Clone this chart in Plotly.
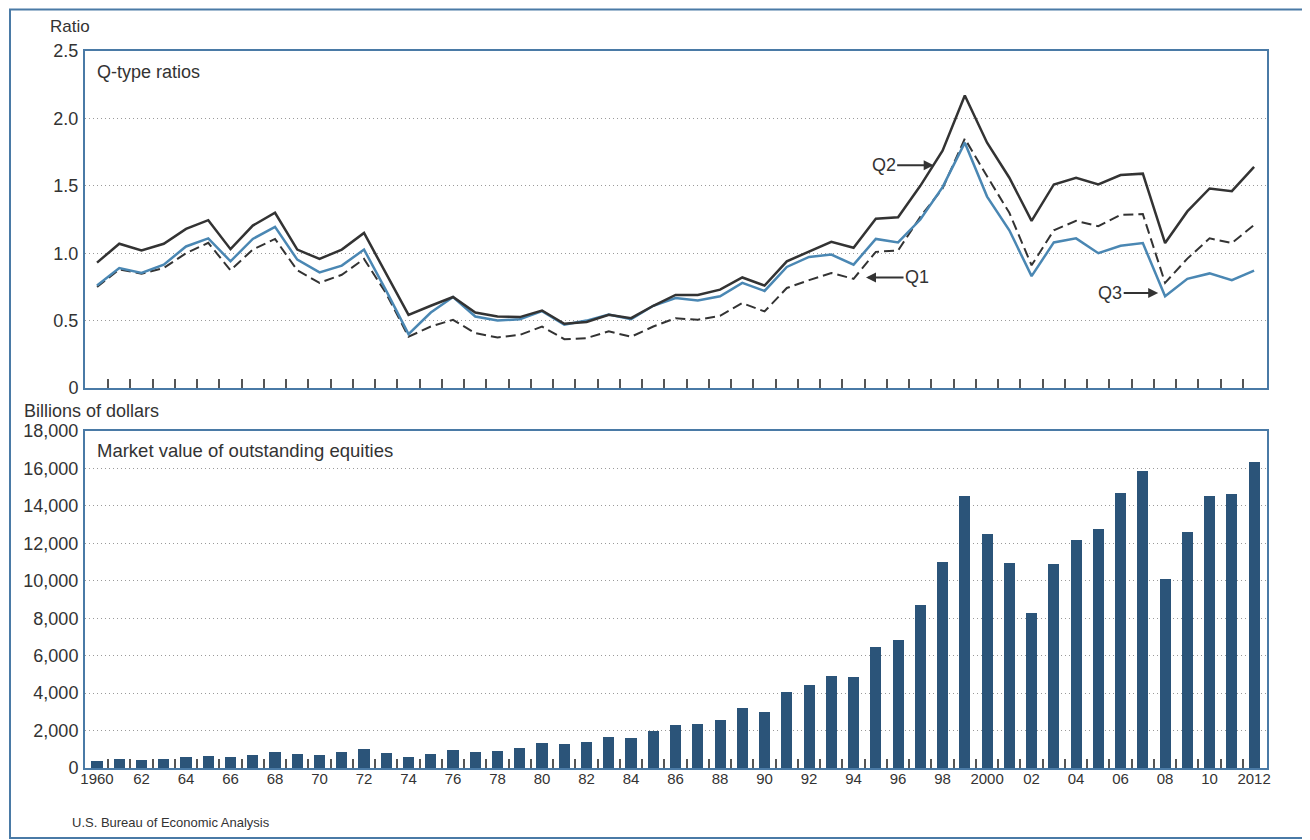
import plotly.graph_objects as go

years = list(range(1960, 2013))

q2_ratio = [0.93, 1.07, 1.02, 1.07, 1.18, 1.245, 1.03, 1.205, 1.30, 1.027, 0.957, 1.027, 1.15, 0.85, 0.543, 0.61, 0.675, 0.56, 0.53,
            0.526, 0.575, 0.476, 0.49, 0.543, 0.518, 0.61, 0.69, 0.69, 0.73, 0.82, 0.76, 0.94, 1.014, 1.084, 1.04,
            1.255, 1.266, 1.50, 1.76, 2.17, 1.82, 1.56, 1.24, 1.51, 1.56, 1.51, 1.58, 1.59, 1.075, 1.31, 1.48, 1.46, 1.64]
q3_ratio = [0.76, 0.89, 0.853, 0.915, 1.05, 1.11, 0.94, 1.106, 1.195, 0.952, 0.858, 0.908, 1.027, 0.72, 0.40, 0.56, 0.675, 0.53, 0.50,
            0.51, 0.57, 0.47, 0.50, 0.545, 0.51, 0.61, 0.667, 0.65, 0.68, 0.78, 0.72, 0.898, 0.972, 0.99, 0.915,
            1.106, 1.08, 1.25, 1.49, 1.82, 1.42, 1.17, 0.83, 1.08, 1.11, 1.00, 1.055, 1.075, 0.68, 0.81, 0.85, 0.80, 0.87]
q1_ratio = [0.75, 0.88, 0.848, 0.89, 1.00, 1.077, 0.873, 1.027, 1.106, 0.873, 0.78, 0.84, 0.957, 0.70, 0.38, 0.456, 0.506, 0.407, 0.375,
            0.394, 0.456, 0.362, 0.37, 0.42, 0.38, 0.456, 0.518, 0.506, 0.536, 0.63, 0.568, 0.742, 0.80, 0.853, 0.81,
            1.01, 1.02, 1.27, 1.48, 1.85, 1.57, 1.30, 0.91, 1.17, 1.24, 1.20, 1.285, 1.29, 0.78, 0.96, 1.11, 1.075, 1.21]
equities = [357, 464, 446, 500, 571, 625, 571, 714, 857, 732, 714, 857, 1036, 821, 589, 768, 946, 839, 893,
            1050, 1360, 1270, 1410, 1660, 1590, 1950, 2290, 2340, 2590, 3180, 2980, 4040, 4410, 4890, 4860,
            6450, 6860, 8730, 11000, 14530, 12520, 10930, 8290, 10910, 12160, 12790, 14710, 15840, 10110, 12610, 14530, 14620, 16320]

year_label_vals = list(range(1960, 2013, 2))
year_label_text = ["1960"] + [str(y)[2:] for y in range(1962, 2000, 2)] + ["2000"] + [str(y)[2:] for y in range(2002, 2012, 2)] + ["2012"]
ratio_ticks = [0, 0.5, 1.0, 1.5, 2.0, 2.5]
ratio_text = ["0", "0.5", "1.0", "1.5", "2.0", "2.5"]
eq_ticks = list(range(0, 18001, 2000))

FRAME = "#4a7aa6"
DARK = "#333333"
BLUE = "#4a87b3"
BAR = "#2b5479"
GRID = "#9a9a9a"
FONT = "Liberation Sans"

# the page body adds an 8px offset; lay the figure out in window pixels minus that offset
OFF = 8
W, H = 1310 - OFF, 840 - OFF


def px(x):
    return (x - OFF) / W


def py(y):
    return 1 - (y - OFF) / H


xdom = [px(85), px(1267)]
ydom_top = [py(388), py(51)]
ydom_bot = [py(768), py(431)]
xr = [1959.46, 2012.58]
half_years = [y + 0.5 for y in range(1960, 2012)]

fig = go.Figure()
fig.add_trace(go.Scatter(x=years, y=q1_ratio, mode="lines", line=dict(color=DARK, width=2, dash="10px,5px"),
                         xaxis="x", yaxis="y", showlegend=False, name="Q1"))
fig.add_trace(go.Scatter(x=years, y=q3_ratio, mode="lines", line=dict(color=BLUE, width=2.5),
                         xaxis="x", yaxis="y", showlegend=False, name="Q3"))
fig.add_trace(go.Scatter(x=years, y=q2_ratio, mode="lines", line=dict(color=DARK, width=2.5),
                         xaxis="x", yaxis="y", showlegend=False, name="Q2"))
fig.add_trace(go.Bar(x=years, y=equities, width=0.5, marker=dict(color=BAR, line=dict(width=0)),
                     xaxis="x2", yaxis="y2", showlegend=False, name="Market value"))

common_x = dict(domain=xdom, range=xr, tickmode="array", tickvals=half_years, ticks="inside", ticklen=9,
                tickwidth=1.5, tickcolor="#555555", showticklabels=False, showgrid=False, zeroline=False,
                showline=True, linecolor=FRAME, linewidth=2, mirror=True, automargin=False)
common_y = dict(showgrid=True, gridcolor=GRID, griddash="1px,3px", gridwidth=1, zeroline=False, ticks="",
                showline=True, linecolor=FRAME, linewidth=2, mirror=True, ticklabelstandoff=1, automargin=False,
                tickfont=dict(size=18, color=DARK, family=FONT))

fig.update_layout(
    width=W, height=H, margin=dict(l=0, r=0, t=0, b=0, pad=0, autoexpand=False),
    paper_bgcolor="white", plot_bgcolor="white",
    font=dict(family=FONT, color=DARK),
    bargap=0,
    xaxis=dict(anchor="y", **common_x),
    yaxis=dict(domain=ydom_top, anchor="x", range=[0, 2.5], tickmode="array", tickvals=ratio_ticks,
               ticktext=ratio_text, **common_y),
    xaxis2=dict(anchor="y2", **common_x),
    yaxis2=dict(domain=ydom_bot, anchor="x2", range=[0, 18000], tickmode="array", tickvals=eq_ticks,
                tickformat=",", **common_y),
    xaxis3=dict(overlaying="x2", anchor="y2", side="bottom", range=xr, tickmode="array",
                tickvals=year_label_vals, ticktext=year_label_text, ticks="", showline=False,
                showgrid=False, zeroline=False, automargin=False,
                tickfont=dict(size=15, color=DARK, family=FONT)),
)
# invisible trace to activate the label axis
fig.add_trace(go.Scatter(x=[xr[0]], y=[0], xaxis="x3", yaxis="y2", mode="markers",
                         marker=dict(opacity=0), showlegend=False, hoverinfo="skip"))

ann = []
ann.append(dict(text="Ratio", x=px(48), y=py(27), xref="paper", yref="paper", xanchor="left", yanchor="middle",
                showarrow=False, font=dict(size=17, color=DARK)))
ann.append(dict(text="Billions of dollars", x=px(22), y=py(411), xref="paper", yref="paper", xanchor="left",
                yanchor="middle", showarrow=False, font=dict(size=18, color=DARK)))
ann.append(dict(text="Q-type ratios", x=px(95), y=py(72), xref="paper", yref="paper", xanchor="left",
                yanchor="middle", showarrow=False, font=dict(size=18, color=DARK)))
ann.append(dict(text="Market value of outstanding equities", x=px(95), y=py(450), xref="paper", yref="paper",
                xanchor="left", yanchor="middle", showarrow=False, font=dict(size=18.5, color=DARK)))
ann.append(dict(text="U.S. Bureau of Economic Analysis", x=px(70), y=py(822), xref="paper", yref="paper",
                xanchor="left", yanchor="middle", showarrow=False, font=dict(size=13, color=DARK)))
arrow_style = dict(showarrow=True, arrowhead=2, arrowsize=1, arrowwidth=2, arrowcolor=DARK,
                   font=dict(size=18, color=DARK), xref="x", yref="y", ay=0)
ann.append(dict(text="Q2", x=1997.6, y=1.652, ax=-50, **arrow_style))
ann.append(dict(text="Q1", x=1994.56, y=0.82, ax=51, **arrow_style))
ann.append(dict(text="Q3", x=2007.69, y=0.705, ax=-48, **arrow_style))
fig.update_layout(annotations=ann)

fig.add_shape(type="rect", xref="paper", yref="paper", x0=px(10), x1=px(1330), y0=py(838), y1=py(9.5),
              line=dict(color=FRAME, width=2), fillcolor="rgba(0,0,0,0)", layer="below")

fig.write_html("out.html")
